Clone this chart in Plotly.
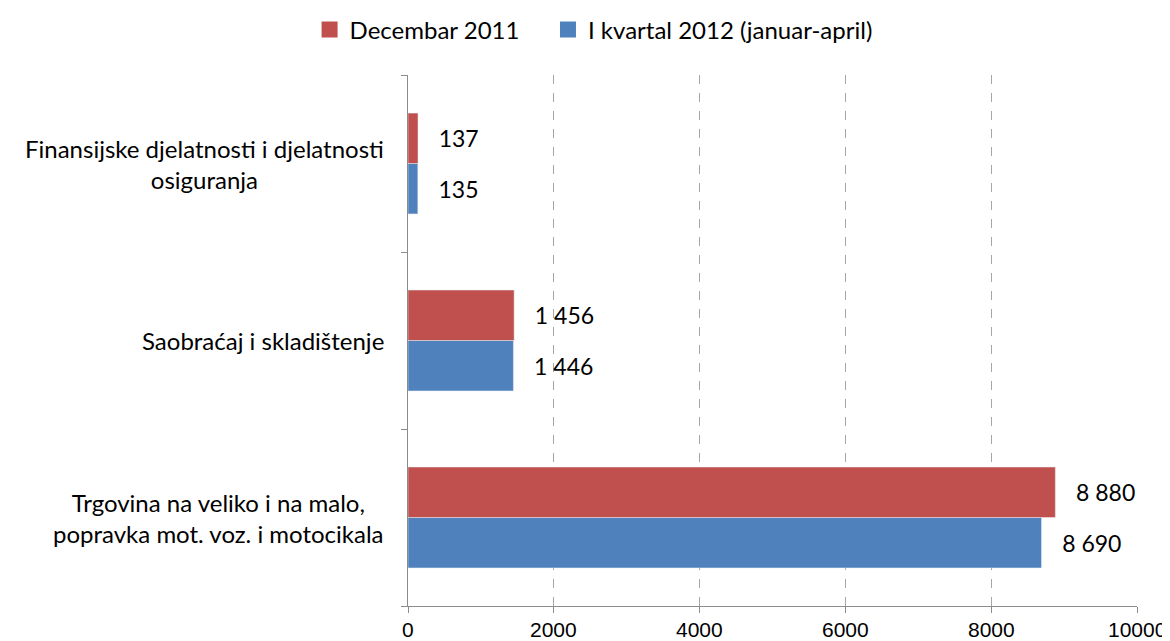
import plotly.graph_objects as go

categories = [
    "Trgovina na veliko i na malo,<br>popravka mot. voz. i motocikala",
    "Saobraćaj i skladištenje",
    "Finansijske djelatnosti i djelatnosti<br>osiguranja",
]
dec_2011 = [8880, 1456, 137]
kv1_2012 = [8690, 1446, 135]
series_names = ["Decembar 2011", "I kvartal 2012 (januar-april)"]
x_ticks = [0, 2000, 4000, 6000, 8000, 10000]

RED = "#C0504D"
BLUE = "#4F81BD"
FONT = "Lato, Open Sans, sans-serif"
TICKFONT = "Liberation Sans, Arial, sans-serif"

def fmt(v):
    return f"{v:,}".replace(",", " ")

fig = go.Figure()
fig.add_trace(go.Bar(
    y=categories, x=kv1_2012, orientation="h", name=series_names[1],
    marker=dict(color=BLUE), showlegend=False,
    text=[fmt(v) for v in kv1_2012], textposition="outside",
    texttemplate="   %{text}", cliponaxis=False,
    textfont=dict(family=FONT, size=23, color="#000"),
))
fig.add_trace(go.Bar(
    y=categories, x=dec_2011, orientation="h", name=series_names[0],
    marker=dict(color=RED), showlegend=False,
    text=[fmt(v) for v in dec_2011], textposition="outside",
    texttemplate="   %{text}", cliponaxis=False,
    textfont=dict(family=FONT, size=23, color="#000"),
))
# legend entries (square swatches)
fig.add_trace(go.Scatter(x=[None], y=[None], mode="markers", name=series_names[0],
                         marker=dict(symbol="square", size=16, color=RED), legend="legend"))
fig.add_trace(go.Scatter(x=[None], y=[None], mode="markers", name=series_names[1],
                         marker=dict(symbol="square", size=16, color=BLUE), legend="legend2"))

annotations = []
for i, c in enumerate(categories):
    annotations.append(dict(x=0, xref="paper", y=i, yref="y", text=c, showarrow=False,
                            xanchor="right", xshift=-22, align="center",
                            font=dict(family=FONT, size=24, color="#000")))
for t in x_ticks:
    annotations.append(dict(x=t, xref="x", y=0, yref="paper", text=str(t), showarrow=False,
                            xanchor="center", yanchor="middle", yshift=-23,
                            font=dict(family=TICKFONT, size=21, color="#000")))

leg_common = dict(orientation="h", xanchor="left", y=1.085, yanchor="middle",
                  font=dict(family=FONT, size=24), itemwidth=30, bgcolor="rgba(0,0,0,0)")

fig.update_layout(
    width=1162, height=633,
    margin=dict(l=400, r=33, t=67, b=35, autoexpand=False),
    paper_bgcolor="white", plot_bgcolor="white",
    barmode="group", bargap=0.43, bargroupgap=0,
    font=dict(family=FONT, size=21, color="#000"),
    legend=dict(x=-0.135, **leg_common),
    legend2=dict(x=0.192, **leg_common),
    xaxis=dict(range=[0, 10000], tickvals=x_ticks, showticklabels=False,
               showgrid=True, gridcolor="#A6A6A6",
               griddash="dash", gridwidth=1, showline=True, linecolor="#8C8C8C",
               ticks="outside", ticklen=6, tickcolor="#8C8C8C", zeroline=False,
               automargin=False),
    yaxis=dict(showticklabels=False, showline=True, linecolor="#8C8C8C",
               ticks="outside", ticklen=6, tickcolor="#8C8C8C", tickson="boundaries",
               showgrid=False, range=[-0.5, 2.5], automargin=False),
    annotations=annotations,
    showlegend=True,
)

fig.write_html("out.html")
